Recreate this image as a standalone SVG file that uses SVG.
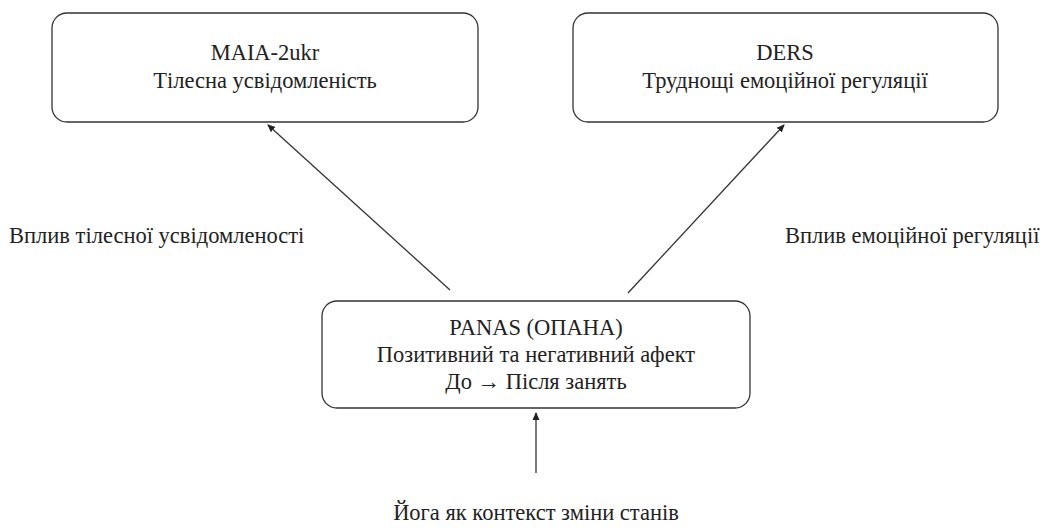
<svg xmlns="http://www.w3.org/2000/svg" width="1046" height="532" viewBox="0 0 1046 532">
<style>
.box{fill:#fff;stroke:#333;stroke-width:1.3}
.t{font-family:"Liberation Serif","Times New Roman",serif;font-size:22.5px;fill:#222;text-anchor:middle}
.l{font-family:"Liberation Serif","Times New Roman",serif;font-size:22.5px;fill:#222}
.c{stroke:#333;stroke-width:1.3;fill:none;marker-end:url(#ah)}
</style>
<defs>
<marker id="ah" markerWidth="8" markerHeight="8" refX="7" refY="4" orient="auto" markerUnits="userSpaceOnUse">
<path d="M0,0.5 L8,4 L0,7.5 Z" fill="#222"/>
</marker>
</defs>
<rect width="1046" height="532" fill="#fff"/>
<g id="connectors">
<line class="c" x1="450" y1="290" x2="268" y2="125"/>
<line class="c" x1="628" y1="293" x2="784" y2="125"/>
<line class="c" x1="536" y1="473" x2="536" y2="413"/>
</g>
<g id="maia">
<rect class="box" x="52" y="13" width="426" height="109" rx="15"/>
<text class="t" x="265" y="60">MAIA-2ukr</text>
<text class="t" x="265" y="88">Тілесна усвідомленість</text>
</g>
<g id="ders">
<rect class="box" x="573" y="13" width="425" height="109" rx="15"/>
<text class="t" x="785" y="60">DERS</text>
<text class="t" x="785" y="88">Труднощі емоційної регуляції</text>
</g>
<g id="panas">
<rect class="box" x="322" y="301" width="428" height="107" rx="15"/>
<text class="t" x="536" y="335">PANAS (ОПАНА)</text>
<text class="t" x="536" y="362">Позитивний та негативний афект</text>
<text class="t" x="536" y="389">До → Після занять</text>
</g>
<g id="label-left">
<text class="l" x="9" y="243">Вплив тілесної усвідомленості</text>
</g>
<g id="label-right">
<text class="l" x="785" y="243">Вплив емоційної регуляції</text>
</g>
<g id="label-bottom">
<text class="t" x="536" y="520">Йога як контекст зміни станів</text>
</g>
</svg>
